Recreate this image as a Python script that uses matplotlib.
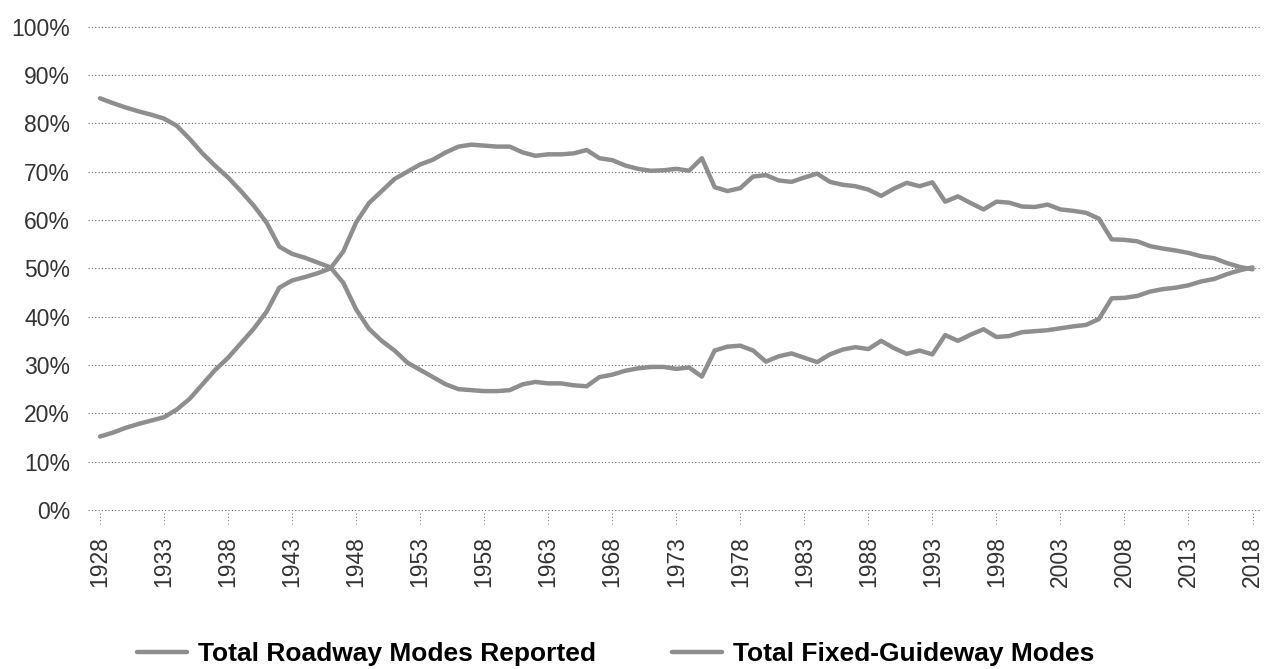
import numpy as np
import matplotlib.pyplot as plt

years = list(range(1928, 2019))

# share of unlinked trips, percent
roadway = [
    15.2, 16.0, 17.0, 17.8, 18.5, 19.2, 20.8, 23.0, 26.0, 29.0,
    31.5, 34.5, 37.5, 41.0, 46.0, 47.5, 48.2, 49.0, 50.0, 53.5,
    59.5, 63.5, 66.0, 68.5, 70.0, 71.5, 72.5, 74.0, 75.2, 75.6,
    75.4, 75.2, 75.2, 74.0, 73.3, 73.6, 73.6, 73.8, 74.5, 72.8,
    72.4, 71.3, 70.6, 70.2, 70.3, 70.6, 70.2, 72.8, 66.8, 66.0,
    66.6, 69.0, 69.3, 68.2, 67.9, 68.8, 69.6, 67.9, 67.3, 67.0,
    66.3, 65.0, 66.5, 67.7, 67.0, 67.8, 63.8, 64.9, 63.5, 62.2,
    63.8, 63.6, 62.8, 62.7, 63.2, 62.2, 61.9, 61.5, 60.3, 56.0,
    55.9, 55.6, 54.6, 54.1, 53.7, 53.2, 52.5, 52.1, 51.1, 50.3,
    49.8,
]
fixed_guideway = [
    85.2, 84.2, 83.3, 82.5, 81.8, 81.0, 79.5, 76.8, 73.8, 71.2,
    68.8, 66.0, 63.0, 59.5, 54.5, 53.0, 52.2, 51.2, 50.2, 47.0,
    41.5, 37.5, 35.0, 33.0, 30.5, 29.0, 27.5, 26.0, 25.0, 24.8,
    24.6, 24.6, 24.8, 26.0, 26.5, 26.2, 26.2, 25.8, 25.6, 27.5,
    28.0, 28.8, 29.3, 29.6, 29.6, 29.2, 29.5, 27.6, 33.0, 33.8,
    34.0, 33.0, 30.7, 31.8, 32.4, 31.5, 30.6, 32.2, 33.2, 33.7,
    33.3, 35.0, 33.5, 32.3, 33.0, 32.2, 36.2, 35.0, 36.3, 37.4,
    35.8, 36.0, 36.8, 37.0, 37.2, 37.6, 38.0, 38.3, 39.5, 43.8,
    43.9, 44.3, 45.2, 45.7, 46.0, 46.5, 47.3, 47.8, 48.8, 49.6,
    50.2,
]
tick_years = list(range(1928, 2019, 5))
series_names = ['Total Roadway Modes Reported', 'Total Fixed-Guideway Modes']

plt.rcParams['font.family'] = ['Liberation Sans', 'DejaVu Sans']

fig = plt.figure(figsize=(12.64, 6.69), dpi=100)
ax = fig.add_axes([0.0696, 0.2377, 0.9284, 0.7223])

line_col = '#8e8e8e'
ax.plot(years, roadway, color=line_col, lw=3.2, solid_capstyle='round',
        solid_joinstyle='round', label=series_names[0])
ax.plot(years, fixed_guideway, color=line_col, lw=3.2, solid_capstyle='round',
        solid_joinstyle='round', label=series_names[1])

ax.set_xlim(1927.06, 2018.7)
ax.set_ylim(0, 100)
ax.set_yticks(range(0, 101, 10))
ax.set_yticklabels([f'{v}%' for v in range(0, 101, 10)])
ax.set_xticks(tick_years)
ax.set_xticklabels([str(y) for y in tick_years], rotation=90)

for v in range(0, 101, 10):
    ax.axhline(v, color='#666666', lw=0.8, ls=(0, (1, 2)), zorder=0, clip_on=False)

# dotted tick marks below the axis
for y in tick_years:
    ax.plot([y, y], [-0.6, -2.8], color='#777777', lw=0.8, ls=(0, (1, 2)), clip_on=False)

for s in ax.spines.values():
    s.set_visible(False)
ax.tick_params(axis='both', length=0, labelsize=16.5, labelcolor='#333333')
ax.tick_params(axis='y', pad=13)
ax.tick_params(axis='x', pad=19)

fig.legend(loc='center', bbox_to_anchor=(0.487, 0.022), ncol=2, frameon=False,
           prop={'weight': 'bold', 'size': 19}, handlelength=1.9, handletextpad=0.4,
           columnspacing=2.9)

fig.savefig('out.png', dpi=100)
